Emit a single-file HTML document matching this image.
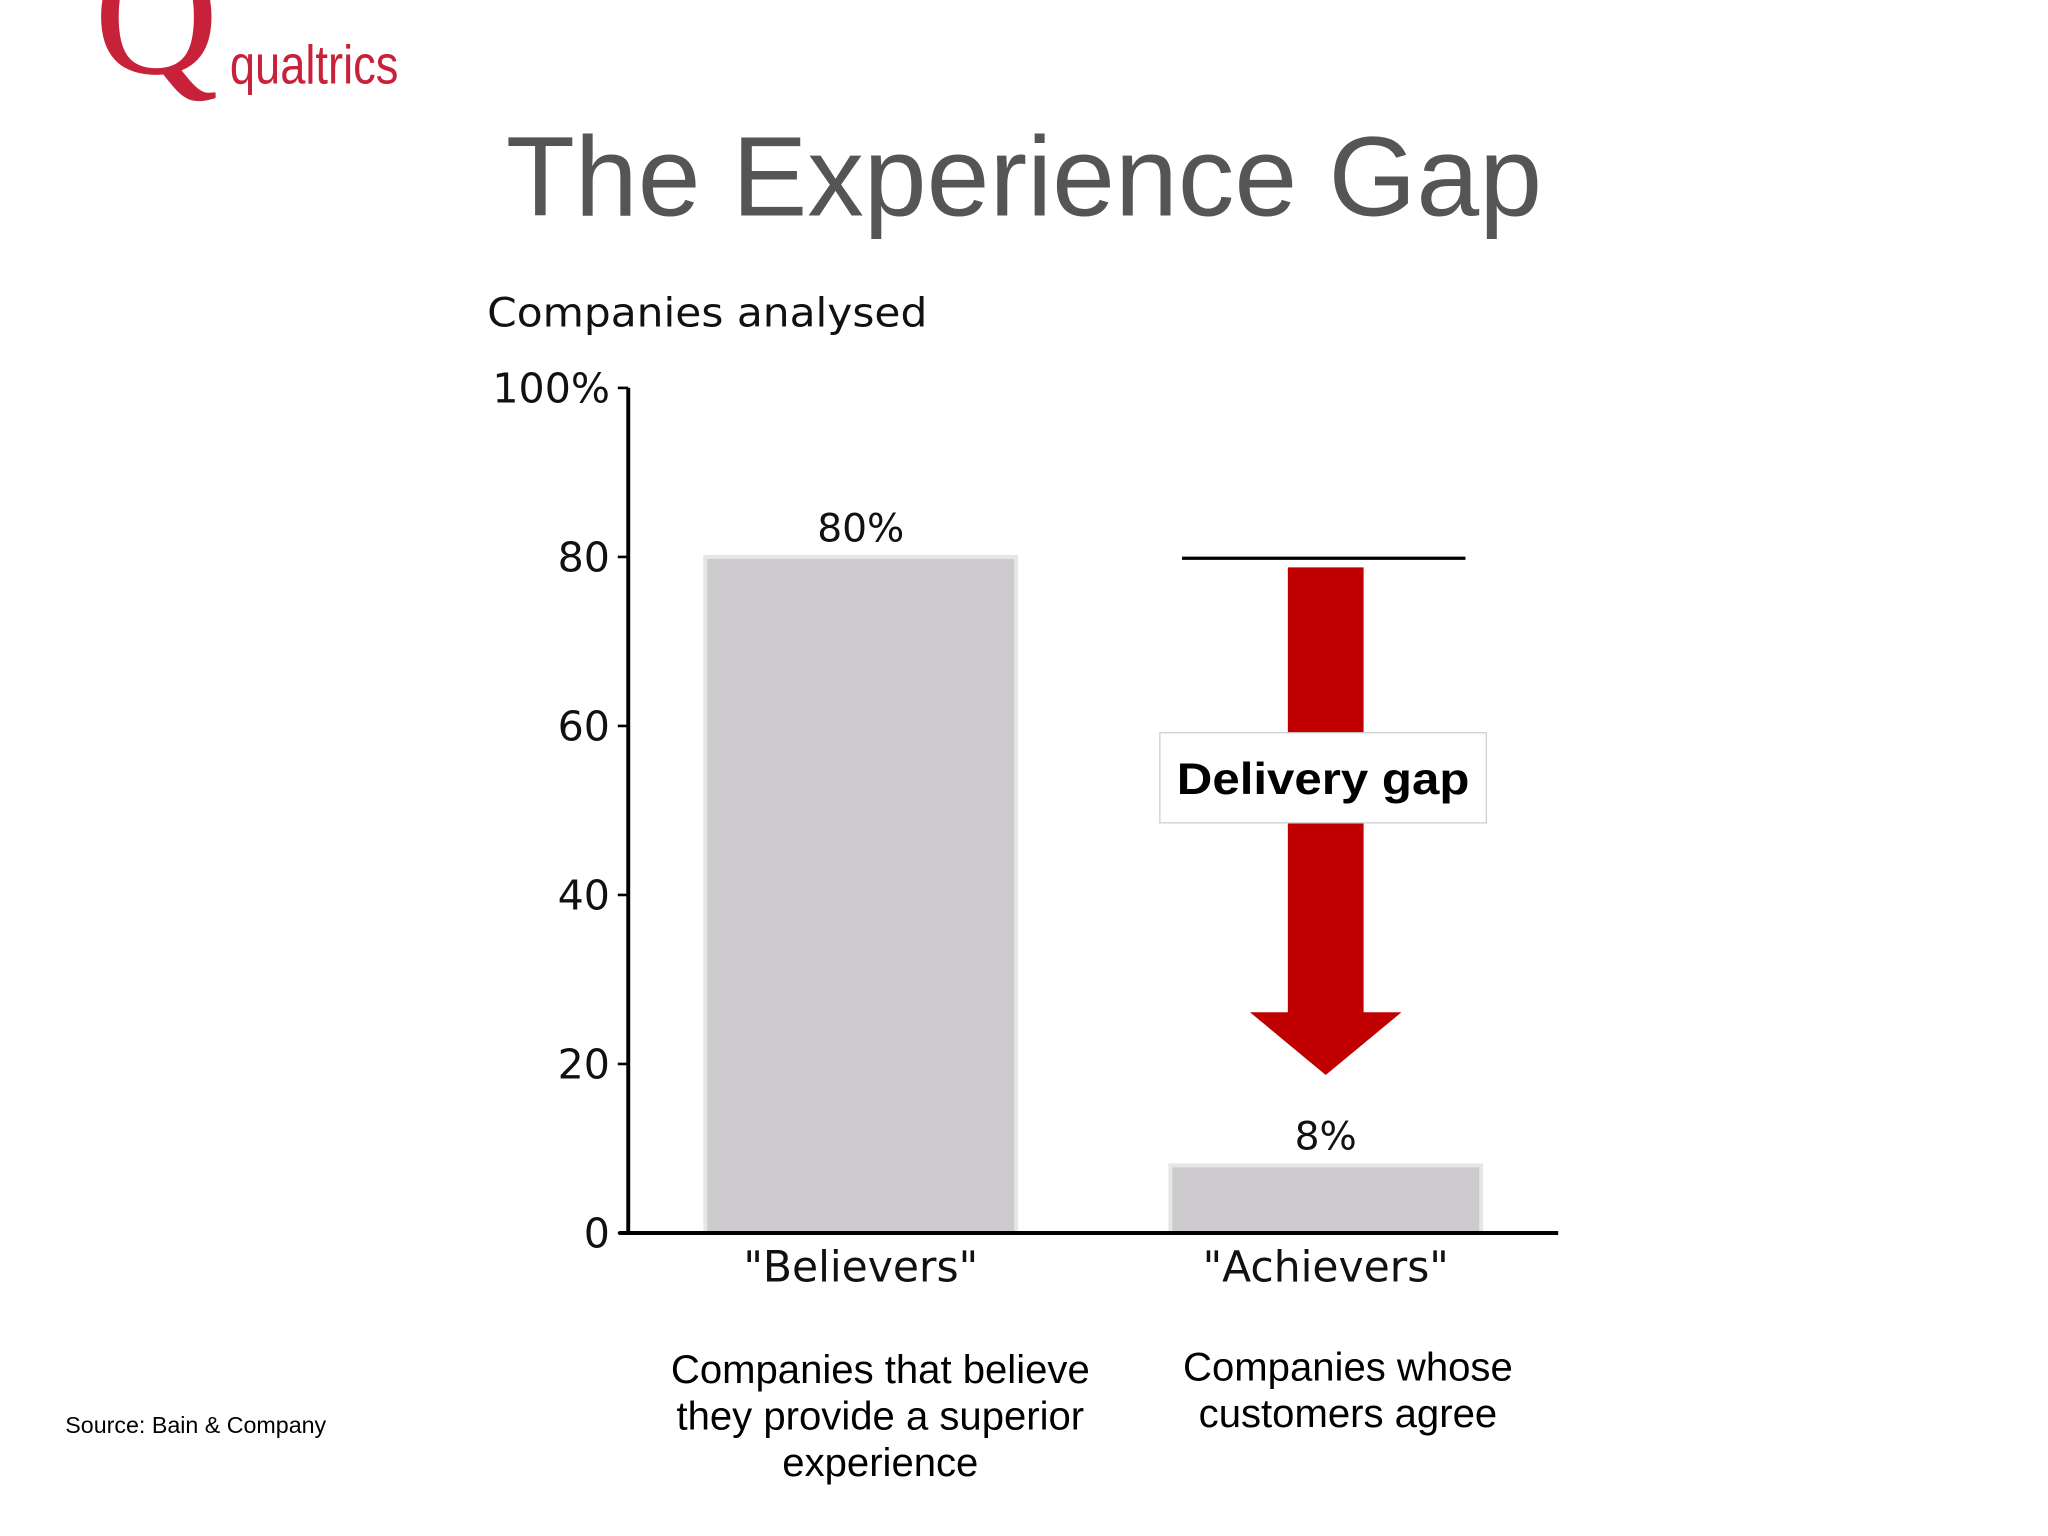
<!DOCTYPE html>
<html><head><meta charset="utf-8"><style>
html,body{margin:0;padding:0;background:#fff;}
svg{display:block;}
</style></head><body>
<svg id="chart" width="2048" height="1536" viewBox="0 0 1568 1176" xmlns="http://www.w3.org/2000/svg">
<rect width="1568" height="1176" fill="#fff"/>
<g>
<text x="72" y="56" font-family="Liberation Serif, serif" font-size="132" fill="#c8213a">Q</text>
<text x="176" y="64" font-family="Liberation Sans, sans-serif" font-size="42" fill="#c8213a" textLength="129" lengthAdjust="spacingAndGlyphs">qualtrics</text>
</g>
<text x="784" y="165" text-anchor="middle" font-family="Liberation Sans, sans-serif" font-size="86.5" fill="#555">The Experience Gap</text>
<text x="373" y="250" font-family="DejaVu Sans, sans-serif" font-size="31" fill="#111" textLength="337" lengthAdjust="spacingAndGlyphs">Companies analysed</text>
<g id="plot"></g>
<text x="50" y="1097" font-family="Liberation Sans, sans-serif" font-size="17.8" fill="#000">Source: Bain &amp; Company</text>
</svg>
<script>
const categories = ['"Believers"', '"Achievers"'];
const values = [80, 8];
const valueLabels = ['80%', '8%'];
const yTicks = [0, 20, 40, 60, 80, 100];
const yTickLabels = ['0', '20', '40', '60', '80', '100%'];
const descriptions = [['Companies that believe','they provide a superior','experience'],['Companies whose','customers agree']];

const NS = 'http://www.w3.org/2000/svg';
const g = document.getElementById('plot');
const x0 = 481, y0 = 944, yTop = 297;
const y = v => y0 - (y0 - yTop) * v / 100;
const centers = [659, 1015];
const bw = 238;
function mk(tag, attrs, text) {
  const e = document.createElementNS(NS, tag);
  for (const k in attrs) e.setAttribute(k, attrs[k]);
  if (text !== undefined) e.textContent = text;
  g.appendChild(e);
  return e;
}
values.forEach((v, i) => {
  const r = mk('rect', {x: centers[i] - bw/2, y: y(v), width: bw, height: y0 - y(v), fill: '#cdcbce', stroke: '#e6e6e6', 'stroke-width': 3});
  
  
  const t = mk('text', {x: centers[i], y: y(v) - 12, 'text-anchor': 'middle', 'font-family': 'DejaVu Sans, sans-serif', 'font-size': 30, fill: '#111'}, valueLabels[i]);
  
  
  const c = mk('text', {x: centers[i], y: 981, 'text-anchor': 'middle', 'font-family': 'DejaVu Sans, sans-serif', 'font-size': 32.5, fill: '#111'}, categories[i]);
  
  
});
descriptions.forEach((lines, i) => {
  const cx = i ? 1032 : 674, sy = i ? 1057 : 1059;
  lines.forEach((ln, j) => {
    const t = mk('text', {x: cx, y: sy + j * 35.5, 'text-anchor': 'middle', 'font-family': 'Liberation Sans, sans-serif', 'font-size': 30.7, fill: '#000'}, ln);
    
    
  });
});
const ya = mk('line', {x1: x0, y1: yTop, x2: x0, y2: y0 + 1, stroke: '#000', 'stroke-width': 3});


const xa = mk('line', {x1: 474, y1: y0, x2: 1193, y2: y0, stroke: '#000', 'stroke-width': 3});


yTicks.forEach((v, i) => {
  const tk = mk('line', {x1: 473, y1: y(v), x2: x0, y2: y(v), stroke: '#000', 'stroke-width': 2});
  
  
  const t = mk('text', {x: 467, y: y(v) + 11, 'text-anchor': 'end', 'font-family': 'DejaVu Sans, sans-serif', 'font-size': 31.5, fill: '#111'}, yTickLabels[i]);
  
  
});
const cx = centers[1];
const ref = mk('line', {x1: 905, y1: y(values[0]) + 1, x2: 1122, y2: y(values[0]) + 1, stroke: '#000', 'stroke-width': 2.5});


const aTop = y(values[0]) + 8, headY = 775, tipY = 823;
const ar = mk('polygon', {points: `${cx-29},${aTop} ${cx+29},${aTop} ${cx+29},${headY} ${cx+58},${headY} ${cx},${tipY} ${cx-58},${headY} ${cx-29},${headY}`, fill: '#c00000'});


const box = mk('rect', {x: 888, y: 561, width: 250, height: 69, fill: '#fff', stroke: '#d0d0d0', 'stroke-width': 1});


const gt = mk('text', {x: 1013, y: 608, 'text-anchor': 'middle', 'font-family': 'Liberation Sans, sans-serif', 'font-weight': 'bold', 'font-size': 34, fill: '#000', textLength: 224, lengthAdjust: 'spacingAndGlyphs'}, 'Delivery gap');


</script>
</body></html>
